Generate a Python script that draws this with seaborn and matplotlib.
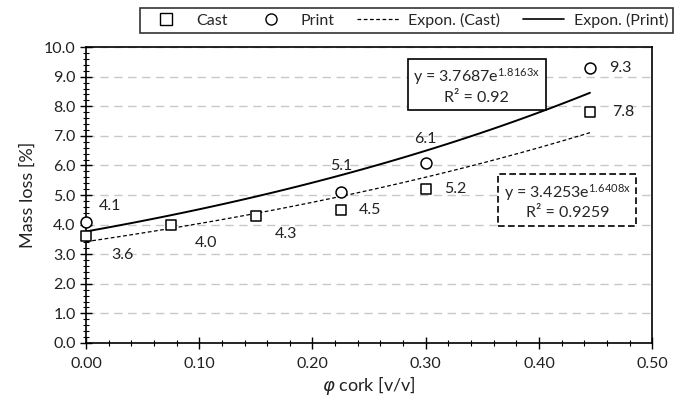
import numpy as np
import pandas as pd
import matplotlib
matplotlib.use("Agg")
import matplotlib.pyplot as plt
from matplotlib.lines import Line2D
from matplotlib.ticker import MultipleLocator, FormatStrFormatter
import seaborn as sns

# cork volume fraction and mass loss values
cast_x = [0.0, 0.075, 0.15, 0.225, 0.30, 0.445]
cast_y = [3.6, 4.0, 4.3, 4.5, 5.2, 7.8]
print_x = [0.0, 0.225, 0.30, 0.445]
print_y = [4.1, 5.1, 6.1, 9.3]

# exponential trendlines (Excel style)
cast_fit = (3.4253, 1.6408)
print_fit = (3.7687, 1.8163)

# label offsets in points (dx, dy)
cast_offsets = [(26, -13), (25, -13), (22, -13), (21, 0), (21, 0), (24, 0)]
print_offsets = [(17, 11), (0, 19), (0, 17), (22, 0)]

sns.set_theme(style="white")
plt.rcParams["font.family"] = ["Lato", "DejaVu Sans"]

fig = plt.figure(figsize=(6.88, 4.03), dpi=100)
ax = fig.add_axes([0.125, 0.149, 0.823, 0.734])

xx = np.linspace(0, 0.445, 100)
fits = pd.DataFrame({
    "x": np.concatenate([xx, xx]),
    "y": np.concatenate([cast_fit[0] * np.exp(cast_fit[1] * xx),
                         print_fit[0] * np.exp(print_fit[1] * xx)]),
    "series": ["Cast"] * len(xx) + ["Print"] * len(xx),
})
sns.lineplot(data=fits[fits.series == "Cast"], x="x", y="y", ax=ax,
             color="black", lw=0.9, linestyle=(0, (3, 2)), legend=False)
sns.lineplot(data=fits[fits.series == "Print"], x="x", y="y", ax=ax,
             color="black", lw=1.4, legend=False)

sns.scatterplot(x=print_x, y=print_y, ax=ax, marker="o", s=62,
                facecolor="white", edgecolor="black", linewidth=1.1,
                zorder=5, clip_on=False)
sns.scatterplot(x=cast_x, y=cast_y, ax=ax, marker="s", s=62,
                facecolor="white", edgecolor="black", linewidth=1.1,
                zorder=6, clip_on=False)

for x, y, off in zip(cast_x, cast_y, cast_offsets):
    ax.annotate(f"{y:.1f}", (x, y), xytext=off, textcoords="offset points",
                ha="center", va="center", fontsize=11.5, color="#222222")
for x, y, off in zip(print_x, print_y, print_offsets):
    ax.annotate(f"{y:.1f}", (x, y), xytext=off, textcoords="offset points",
                ha="center", va="center", fontsize=11.5, color="#222222")

# equation boxes
ax.text(0.345, 8.7, "y = 3.7687e$\\mathregular{^{1.8163x}}$\nR² = 0.92",
        ha="center", va="center", fontsize=11.5, linespacing=1.3,
        bbox=dict(boxstyle="square,pad=0.35", fc="white", ec="black", lw=1.2))
ax.text(0.425, 4.8, "y = 3.4253e$\\mathregular{^{1.6408x}}$\nR² = 0.9259",
        ha="center", va="center", fontsize=11.5, linespacing=1.3,
        bbox=dict(boxstyle="square,pad=0.35", fc="white", ec="black", lw=1.2,
                  linestyle=(0, (4, 2))))

ax.set_xlim(0, 0.5)
ax.set_ylim(0, 10)
ax.xaxis.set_major_locator(MultipleLocator(0.1))
ax.xaxis.set_minor_locator(MultipleLocator(0.02))
ax.yaxis.set_major_locator(MultipleLocator(1.0))
ax.yaxis.set_minor_locator(MultipleLocator(0.2))
ax.xaxis.set_major_formatter(FormatStrFormatter("%.2f"))
ax.yaxis.set_major_formatter(FormatStrFormatter("%.1f"))
ax.tick_params(which="major", direction="inout", length=8, width=1, colors="black",
               labelsize=11.5, labelcolor="#222222", bottom=True, left=True)
ax.tick_params(which="minor", direction="inout", length=5, width=0.8, colors="black",
               bottom=True, left=True)
ax.tick_params(axis="x", pad=6)
ax.grid(axis="y", which="major", color="#c8c8c8", linestyle=(0, (6, 4)), lw=1)
for sp in ax.spines.values():
    sp.set_color("black")
    sp.set_linewidth(1.2)

ax.set_xlabel(r"$\varphi$ cork [v/v]", fontsize=13, color="#222222", labelpad=2)
ax.set_ylabel("Mass loss [%]", fontsize=13, color="#222222", labelpad=6)

handles = [
    Line2D([], [], marker="s", ls="none", mfc="white", mec="black", ms=8),
    Line2D([], [], marker="o", ls="none", mfc="white", mec="black", ms=8),
    Line2D([], [], color="black", lw=0.9, ls=(0, (3, 2))),
    Line2D([], [], color="black", lw=1.2),
]
leg = fig.legend(handles, ["Cast", "Print", "Expon. (Cast)", "Expon. (Print)"],
                 loc="upper right", bbox_to_anchor=(0.99, 1.0), ncol=4,
                 fontsize=11.5, frameon=True, fancybox=False, edgecolor="black",
                 handlelength=2.6, handletextpad=0.6, columnspacing=1.4,
                 borderpad=0.3)
leg.get_frame().set_linewidth(1.2)

fig.savefig("out.png", dpi=100)
